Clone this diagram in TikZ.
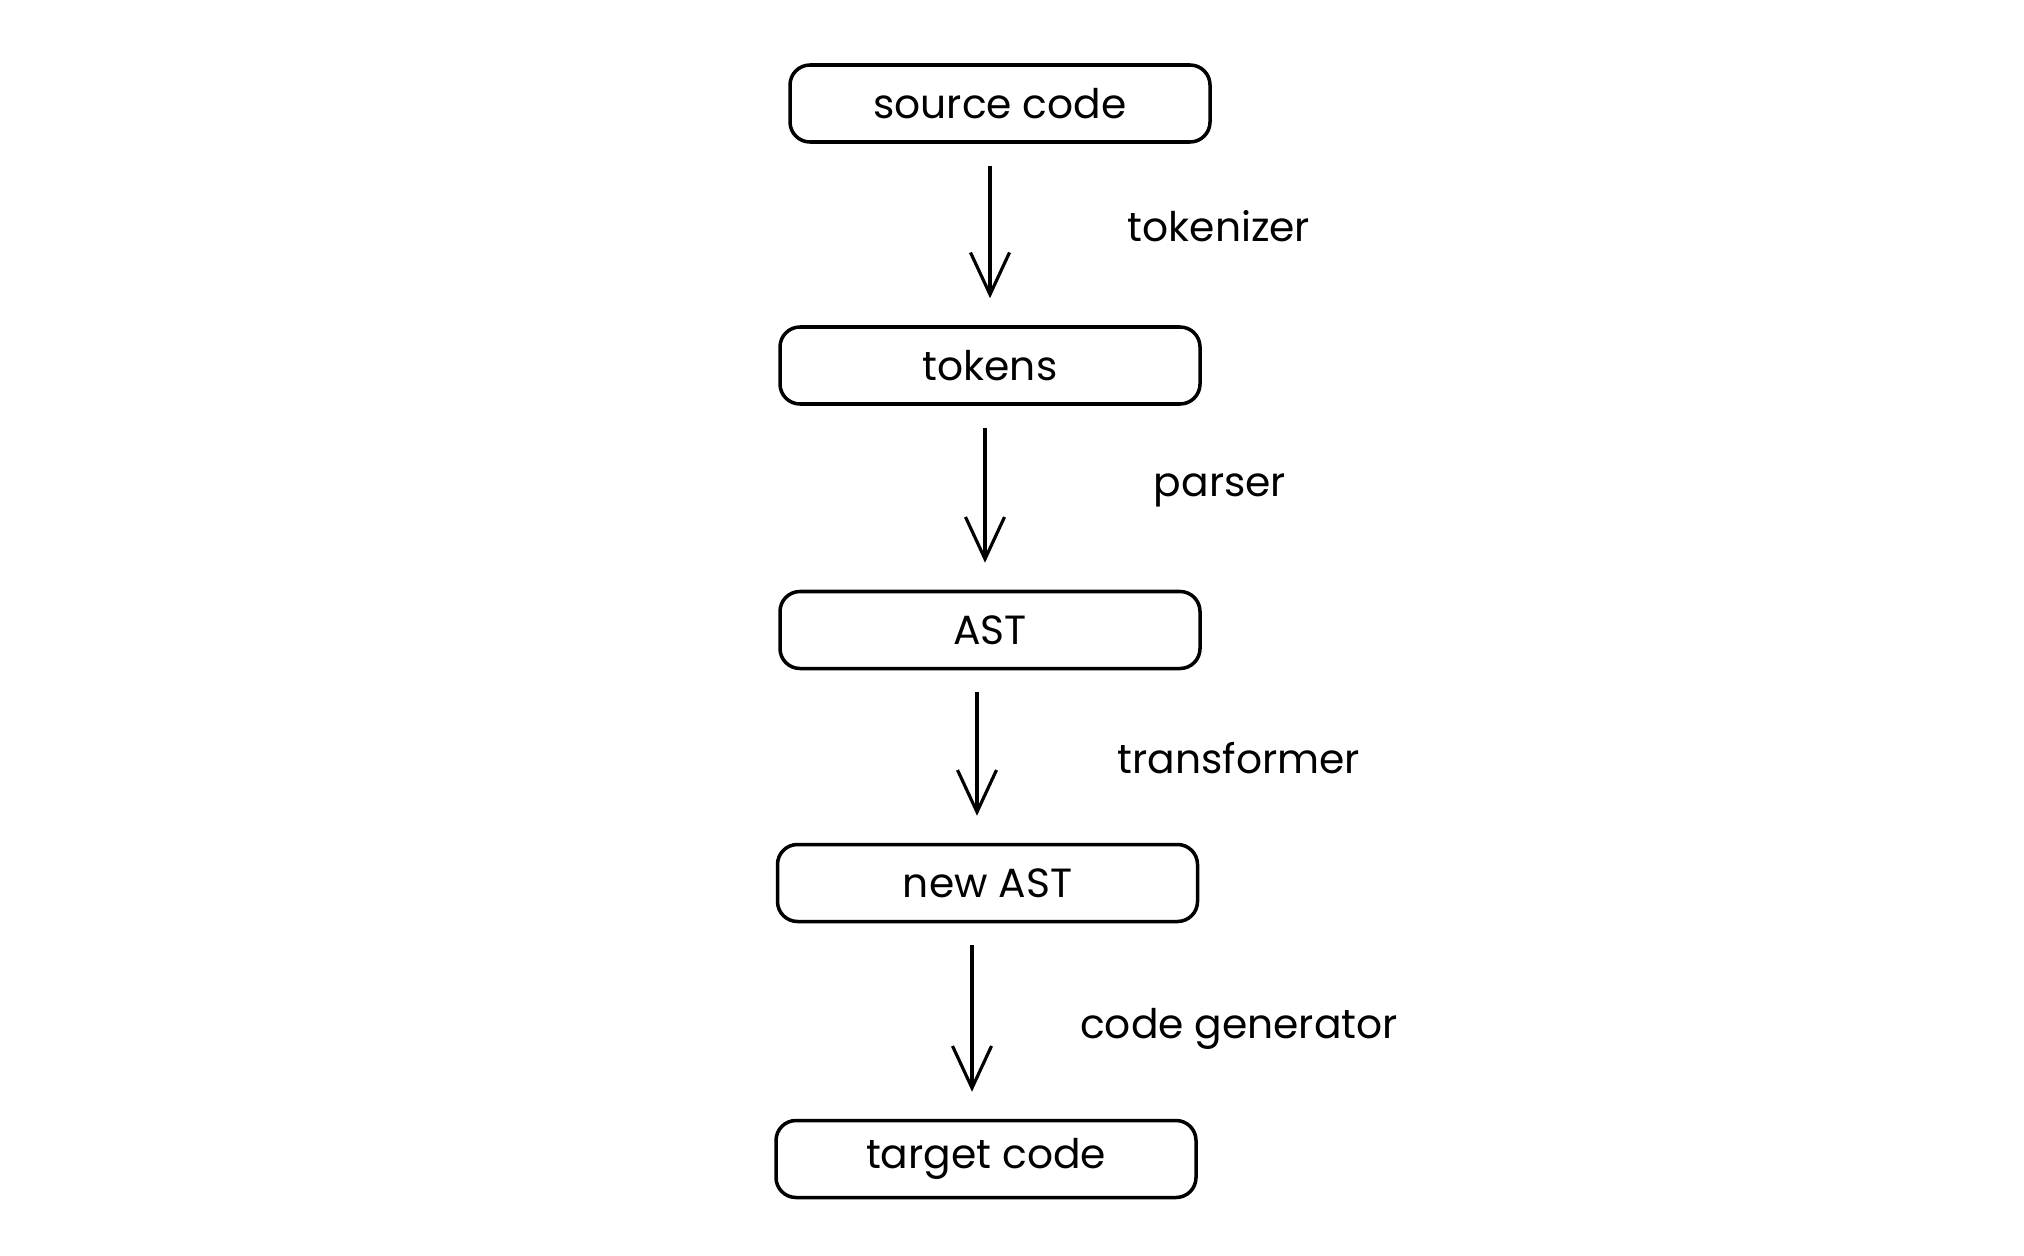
\documentclass[tikz,border=0pt]{standalone}
\usepackage{fontspec}
\setmainfont{Poppins}
\usetikzlibrary{arrows.meta}

\tikzset{
    stage/.style={draw,rounded corners=0.2cm,line width=1pt,minimum width=4.2cm,minimum height=0.77cm,font=\fontsize{11.6}{14}\selectfont},
    flow/.style={-{Straight Barb[length=4.2mm,width=3.9mm]},line width=0.9pt,shorten <=0.22cm,shorten >=0.27cm},
    phase/.style={font=\fontsize{11.6}{14}\selectfont}
}

\begin{document}
\begin{tikzpicture}
    \useasboundingbox (0,0) rectangle (20.24,-12.56);

    % the five stages
    \node[stage] (src) at (10.0,-1.035) {source code};
    \node[stage] (tok) at (9.9,-3.655) {tokens};
    \node[stage] (ast) at (9.9,-6.3) {AST};
    \node[stage] (newast) at (9.875,-8.83) {new AST};
    \node[stage] (tgt) at (9.86,-11.59) {target code};

    % what happens in between
    \draw[flow] (src.south -| tok.north) -- (tok.north);
    \draw[flow] (tok.south -| 9.85,0) -- (ast.north -| 9.85,0);
    \draw[flow] (ast.south -| 9.77,0) -- (newast.north -| 9.77,0);
    \draw[flow] (newast.south -| 9.72,0) -- (tgt.north -| 9.72,0);

    \node[phase] (tokenizer) at (12.19,-2.26) {tokenizer};
    \node[phase] (parser) at (12.2,-4.9) {parser};
    \node[phase] (transformer) at (12.39,-7.58) {transformer};
    \node[phase] (codegen) at (12.39,-10.29) {code generator};
\end{tikzpicture}
\end{document}
